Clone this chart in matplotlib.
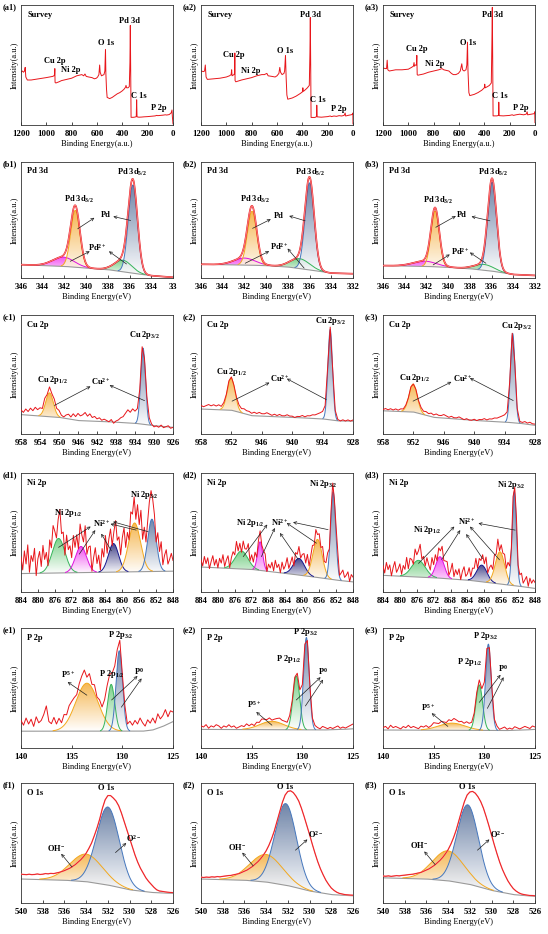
import numpy as np
import matplotlib
matplotlib.use('Agg')
import matplotlib.pyplot as plt
from matplotlib.colors import LinearSegmentedColormap, to_rgb

plt.rcParams['font.family'] = ['Liberation Serif', 'DejaVu Serif']
plt.rcParams['font.weight'] = 'bold'
plt.rcParams['font.size'] = 6
plt.rcParams['mathtext.fontset'] = 'custom'
plt.rcParams['mathtext.rm'] = 'Liberation Serif:bold'
plt.rcParams['mathtext.it'] = 'Liberation Serif:bold'
plt.rcParams['mathtext.bf'] = 'Liberation Serif:bold'
plt.rcParams['mathtext.default'] = 'rm'

RED = '#e8161b'
EDGE = {'blue': '#4577bd', 'orange': '#f3a81c', 'green': '#36b45a',
        'magenta': '#dd10dd', 'navy': '#15158e'}
FILL = {'blue': '#5f779f', 'orange': '#f5b040', 'green': '#6ccb7c',
        'magenta': '#f03cf0', 'navy': '#33337f'}

# ---------------- survey (a) ----------------
a1_be = [1200, 1190, 1180, 1172, 1167, 1162, 1150, 1120, 1090, 1060, 1030, 1000, 975, 950, 940, 935, 933, 931, 925, 900,
         880, 860, 840, 820, 800, 780, 760, 740, 720, 705, 695, 685, 665, 640, 620, 605, 595, 585, 579, 575,
         565, 555, 545, 538, 533, 530, 525, 520, 500, 480, 460, 440, 420, 400, 385, 375, 371, 366, 355, 345,
         340, 337, 334, 331, 315, 300, 290, 287, 284, 270, 250, 230, 200, 180, 160, 140, 130, 120, 100, 80,
         60, 50, 30, 15, 8, 5, 0]
a1_int = [.44, .45, .44, .45, .48, .40, .375, .375, .38, .385, .39, .395, .40, .405, .41, .42, .47, .355, .35, .36,
          .37, .375, .38, .385, .39, .40, .41, .415, .42, .41, .425, .405, .40, .395, .385, .39, .40, .42, .50, .44,
          .41, .415, .42, .45, .63, .43, .30, .23, .22, .23, .245, .26, .27, .285, .30, .315, .33, .31, .31, .32,
          .52, .83, .45, .064, .064, .066, .07, .21, .068, .065, .066, .068, .07, .072, .074, .076, .08, .078, .08, .082,
          .085, .083, .087, .10, .125, .07, .01]
a2_be = [1200, 1180, 1172, 1166, 1160, 1150, 1100, 1050, 1000, 975, 962, 958, 955, 940, 935, 933, 931, 925, 880, 840,
         800, 760, 720, 700, 680, 670, 640, 615, 600, 585, 578, 572, 560, 545, 540, 533, 528, 522, 515, 480,
         450, 420, 400, 396, 392, 375, 360, 345, 340, 337, 334, 331, 300, 288, 286, 283, 250, 200, 180, 170,
         150, 130, 110, 90, 70, 62, 58, 40, 15, 4, 1, 0]
a2_int = [.45, .445, .45, .50, .40, .38, .385, .39, .40, .41, .42, .46, .41, .42, .43, .60, .37, .36, .375, .385,
          .395, .41, .42, .42, .43, .41, .405, .40, .41, .43, .48, .44, .42, .43, .45, .58, .40, .25, .215, .225,
          .24, .26, .275, .31, .28, .295, .31, .33, .60, .895, .50, .063, .063, .07, .165, .068, .065, .07, .075, .07,
          .075, .072, .078, .075, .08, .10, .075, .08, .085, .09, .10, .01]
a3_be = [1200, 1180, 1172, 1167, 1162, 1150, 1100, 1050, 1000, 975, 960, 955, 952, 945, 936, 933, 930, 925, 880, 840,
         800, 760, 735, 720, 700, 680, 660, 645, 625, 605, 590, 578, 572, 560, 545, 538, 533, 529, 522, 515,
         480, 450, 420, 400, 397, 393, 375, 360, 345, 340, 337, 334, 331, 300, 288, 286, 283, 250, 200, 180,
         170, 150, 120, 90, 70, 62, 58, 30, 5, 2, 0]
a3_int = [.475, .47, .47, .54, .46, .45, .46, .46, .465, .48, .49, .52, .49, .50, .50, .58, .42, .415, .425, .44,
          .45, .46, .47, .46, .455, .45, .43, .42, .42, .43, .45, .51, .46, .45, .46, .50, .69, .45, .27, .245,
          .255, .27, .29, .31, .34, .31, .32, .33, .35, .70, .98, .55, .076, .076, .08, .19, .078, .076, .08, .085,
          .08, .085, .09, .085, .09, .11, .085, .09, .095, .11, .02]
a1_text = [('Pd 3d', 342, .87), ('O 1s', 525, .68), ('Cu 2p', 932, .53), ('Ni 2p', 809, .46), ('C 1s', 268, .24), ('P 2p', 111, .14)]
a2_text = [('Pd 3d', 337, .92), ('O 1s', 534, .62), ('Cu 2p', 942, .58), ('Ni 2p', 810, .45), ('C 1s', 276, .21), ('P 2p', 113, .13)]
a3_text = [('Pd 3d', 337, .92), ('O 1s', 532, .68), ('Cu 2p', 937, .63), ('Ni 2p', 790, .51), ('C 1s', 276, .24), ('P 2p', 110, .14)]

# ---------------- Pd 3d (b) : peaks = (colour, centre, height, sigma) ----------------
b1_bg_x = [346, 342, 340, 338, 336, 334, 332]
b1_bg_y = [.115, .10, .086, .072, .045, .02, .006]
b1_peaks = [('magenta', 342.1, .08, 1.0), ('green', 336.6, .10, .8), ('orange', 341.0, .49, .42), ('blue', 335.7, .76, .42)]
b2_bg_x = [346, 342, 340, 338, 336, 334, 332]
b2_bg_y = [.118, .112, .107, .095, .07, .042, .037]
b2_peaks = [('magenta', 342.0, .06, 1.0), ('green', 336.9, .085, .9), ('orange', 341.3, .465, .42), ('blue', 336.0, .75, .42)]
b3_bg_x = [346, 342, 340, 338, 336, 334, 332]
b3_bg_y = [.107, .10, .092, .08, .06, .03, .022]
b3_peaks = [('magenta', 342.15, .045, 1.1), ('green', 336.7, .05, .9), ('orange', 341.2, .48, .38), ('blue', 335.95, .765, .40)]
b1_text = [('Pd 3d$_{5/2}$', 335.75, .91), ('Pd 3d$_{3/2}$', 340.7, .68), ('Pd', 338.2, .54), ('Pd$^{2+}$', 339.0, .26)]
b2_text = [('Pd 3d$_{5/2}$', 336.0, .91), ('Pd 3d$_{3/2}$', 341.0, .68), ('Pd', 338.8, .535), ('Pd$^{2+}$', 338.8, .268)]
b3_text = [('Pd 3d$_{5/2}$', 335.9, .91), ('Pd 3d$_{3/2}$', 340.9, .67), ('Pd', 338.7, .54), ('Pd$^{2+}$', 338.85, .23)]
b1_arrows = [(340.78, .424, 339.24, .519), (335.9, .496, 337.5, .53), (341.46, .144, 339.67, .23), (336.28, .121, 337.9, .23)]
b2_arrows = [(341.25, .428, 339.57, .507), (336.41, .493, 337.88, .535), (341.93, .127, 339.72, .231), (336.5, .085, 338.03, .254)]
b3_arrows = [(341.14, .437, 339.29, .535), (336.15, .493, 337.85, .53), (341.38, .113, 339.85, .203), (336.52, .127, 338.0, .22)]

# ---------------- Cu 2p (c) ----------------
c1_bg_x = [958, 950, 946, 940, 934, 930, 926]
c1_bg_y = [.163, .14, .113, .104, .09, .07, .056]
c1_peaks = [('orange', 952.0, .20, .8), ('blue', 932.3, .64, .5)]
c1_res = [4, 2, 5, 3, 6, 4, 7, 5, 6, 3, 6, 2, 5, 3, 6, 4, 5, 2, 1, 3, 4, 2, 5, 3, 6, 4, 5, 7, 4, 6, 3, 4, 2, 3, 1, 2,
          1, 0, 2, -1, 1, 2, 4, 5, 8, 11, 9, 12, 10, 9, 5, 6, 2, 6, 4, 1, -1, 0, -1, 1, -1, 0, 1, -1, 0]
c2_bg_x = [958, 952, 948, 940, 934, 931, 928]
c2_bg_y = [.21, .20, .154, .14, .127, .11, .108]
c2_peaks = [('orange', 952.05, .27, .75), ('blue', 932.5, .76, .45)]
c2_res = [3, 2, 3, 4, 3, 4, 3, 4, 2, 2, 1, 2, 1, 1, 2, 3, 3, 4, 3, 3, 2, 3, 2, 3, 2, 2, 3, 2, 1, 2, 1, 2, 1, 1, 2, 1,
          1, 0, 1, 1, 2, 1, 2, 2, 3, 3, 4, 5, 6, 5, 3, 2, 1, 2, 1, 0, 1, 0, 1, 0, 1]
c3_bg_x = [958, 952, 948, 940, 934, 931, 928]
c3_bg_y = [.195, .185, .14, .114, .10, .09, .073]
c3_peaks = [('orange', 952.05, .235, .8), ('blue', 932.4, .75, .45)]
c3_res = [1, 2, 1, 2, 1, 2, 1, 2, 1, 1, 0, 1, 0, 1, 1, 2, 2, 3, 2, 3, 2, 3, 2, 2, 3, 2, 1, 2, 1, 1, 2, 1, 0, 1, 0, 0,
          1, 0, 1, 1, 2, 1, 2, 2, 3, 3, 4, 5, 6, 5, 3, 2, 1, 2, 1, 1, 2, 1, 2, 1, 1]
c1_text = [('Cu 2p$_{3/2}$', 932.0, .83), ('Cu 2p$_{1/2}$', 951.3, .45), ('Cu$^{2+}$', 941.1, .445)]
c2_text = [('Cu 2p$_{3/2}$', 932.4, .95), ('Cu 2p$_{1/2}$', 952.07, .52), ('Cu$^{2+}$', 942.5, .465)]
c3_text = [('Cu 2p$_{3/2}$', 931.6, .91), ('Cu 2p$_{1/2}$', 951.74, .47), ('Cu$^{2+}$', 942.18, .465)]
c1_arrows = [(950.97, .24, 943.37, .40), (931.98, .28, 939.36, .41)]
c2_arrows = [(951.87, .276, 944.49, .432), (933.28, .289, 941.06, .465)]
c3_arrows = [(952.07, .276, 944.49, .438), (932.29, .281, 940.86, .47)]

# ---------------- Ni 2p (d) ----------------
d1_bg_x = [884, 848]
d1_bg_y = [.155, .175]
d1_peaks = [('green', 875.1, .29, 1.5), ('magenta', 869.8, .22, 1.3), ('navy', 862.1, .24, 1.2),
            ('orange', 857.1, .41, 1.4), ('blue', 853.0, .44, 1.0)]
d1_res = [14, 3, 19, 8, 24, 1, 15, 10, 21, -2, 12, 18, 5, 22, 9, 13, -1, 17, 6, 20, 11, 2, 16, 25, 7, 12, -3, 18, 9, 14,
          4, 21, 8, 15, 0, 19, 10, 6, 23, 3, 13, 17, -2, 11, 20, 7, 14, 1, 18, 9, 24, 5, 12, 16, -1, 10, 21, 8, 15, 3,
          19, 26, 6, 13, 0, 17, 10, 22, 4, 20, 9, 27, 7, 18, 2, 12, 20, 24, 17, 11, -2, 16, 8, 21, 4, 13, 18, 6, 10, 15, 9]
d2_bg_x = [884, 872, 866, 858, 852, 848]
d2_bg_y = [.21, .19, .165, .13, .10, .085]
d2_peaks = [('green', 874.4, .15, 1.5), ('magenta', 870.0, .24, .6), ('navy', 860.8, .14, 1.3),
            ('orange', 856.4, .32, 1.1), ('blue', 852.7, .74, .6)]
d2_res = [6, 1, 9, 3, 8, -1, 5, 10, 2, 7, 0, 8, 4, 11, 1, 6, 9, -2, 5, 8, 3, 12, 2, 7, -1, 9, 4, 6, 13, 1,
          8, 3, 10, 0, 5, 9, 2, 7, 11, -1, 6, 3, 8, 1, 10, 4, 7, 0, 9, 3, 6, 12, 2, 5, 8, -2, 7, 4, 10, 1,
          6, 9, 3, 11, 0, 5, 8, 2, 10, 4, 7, 1, 9, 3, 6, 12, 0, 5, 8, 2, 7, 10, 1, 6, 9, 3, 5, 8, 0, 6, 4]
d3_bg_x = [884, 872, 864, 858, 852, 848]
d3_bg_y = [.14, .12, .10, .075, .05, .03]
d3_peaks = [('green', 875.6, .14, 1.6), ('magenta', 870.5, .18, 1.0), ('navy', 860.6, .14, 1.2),
            ('orange', 856.3, .27, 1.1), ('blue', 852.9, .79, .5)]
d3_res = [8, 2, 11, 5, 9, 0, 7, 12, 3, 6, 10, 1, 8, 4, 13, 2, 9, 6, 0, 11, 5, 8, 14, 3, 7, 1, 10, 6, 2, 12,
          4, 9, 0, 8, 5, 11, 3, 7, 10, 1, 6, 13, 2, 8, 4, 9, 0, 7, 11, 3, 5, 10, 2, 8, 6, 12, 1, 7, 4, 9,
          3, 11, 0, 6, 8, 2, 10, 5, 13, 1, 7, 4, 9, 3, 12, 6, 0, 8, 5, 10, 2, 7, 11, 3, 6, 9, 1, 8, 4, 7, 5]
d1_text = [('Ni 2p$_{3/2}$', 854.7, .817), ('Ni 2p$_{1/2}$', 872.9, .662), ('Ni$^{2+}$', 865.0, .577)]
d2_text = [('Ni 2p$_{3/2}$', 855.1, .906), ('Ni 2p$_{1/2}$', 872.4, .58), ('Ni$^{2+}$', 865.3, .58)]
d3_text = [('Ni 2p$_{3/2}$', 853.5, .90), ('Ni 2p$_{1/2}$', 873.6, .52), ('Ni$^{2+}$', 864.1, .59)]
d1_arrows = [(875.1, .375, 867.5, .55), (870.2, .318, 866.4, .52), (862.6, .346, 865.0, .49),
             (856.7, .52, 862.8, .572), (853.9, .507, 862.2, .59)]
d2_arrows = [(874.0, .297, 868.3, .567), (869.7, .297, 866.5, .538), (861.0, .275, 865.3, .496),
             (856.65, .41, 863.7, .58), (853.9, .524, 862.2, .586)]
d3_arrows = [(875.6, .24, 867.1, .55), (870.1, .273, 865.7, .52), (860.4, .28, 864.3, .487),
             (856.4, .27, 863.4, .55), (852.7, .52, 861.4, .577)]

# ---------------- P 2p (e) ----------------
e1_bg_x = [140, 128, 127, 126, 125]
e1_bg_y = [.14, .14, .15, .18, .22]
e1_peaks = [('orange', 133.5, .40, 1.1), ('green', 131.1, .39, .35), ('blue', 130.3, .67, .32)]
e1_res = [9, 5, 11, 6, 10, 4, 12, 7, 9, 14, 21, 8, 6, 11, 5, 9, 4, 9, 6, 10, 9, 7, 4, 8, 10, 12, 5, 9, 3, 7,
          2, 5, 3, 8, 10, 6, 2, 4, 3, 7, 4, 6, 3, 8, 5, 9, 6, 11, 7, 4, 9, 6, 10, 5, 12, 7, 9, 13, 6, 10, 8]
e2_bg_x = [140, 128, 126, 125]
e2_bg_y = [.155, .15, .155, .16]
e2_peaks = [('orange', 133.0, .07, 1.2), ('green', 130.6, .45, .33), ('blue', 129.6, .77, .28)]
e2_res = [3, 2, 4, 1, 3, 2, 4, 3, 1, 3, 2, 4, 2, 3, 1, 2, 3, 2, 4, 2, 3, 1, 3, 2, 4, 3, 2, 3, 1, 2,
          3, 4, 3, 3, 2, 3, 1, 2, 3, 2, 1, 3, 2, 1, 2, 3, 2, 1, 3, 2, 1, 2, 1, 2, 3, 1, 2, 1, 2, 3, 4]
e3_bg_x = [140, 128, 126, 125]
e3_bg_y = [.15, .145, .15, .155]
e3_peaks = [('orange', 133.2, .06, 1.3), ('green', 130.5, .38, .33), ('blue', 129.6, .72, .28)]
e3_res = [2, 3, 1, 4, 2, 3, 2, 1, 3, 2, 4, 2, 3, 2, 1, 3, 2, 3, 1, 2, 4, 3, 2, 3, 2, 1, 3, 2, 4, 3,
          2, 3, 2, 4, 3, 2, 1, 2, 3, 1, 2, 3, 1, 2, 2, 3, 1, 2, 3, 1, 2, 1, 3, 2, 1, 2, 3, 2, 1, 3, 2]
e1_text = [('P 2p$_{3/2}$', 130.2, .94), ('P 2p$_{1/2}$', 131.1, .62), ('P$^{5+}$', 135.4, .61), ('P$^{0}$', 128.4, .64)]
e2_text = [('P 2p$_{3/2}$', 129.7, .97), ('P 2p$_{1/2}$', 131.3, .74), ('P$^{5+}$', 134.8, .36), ('P$^{0}$', 128.0, .64)]
e3_text = [('P 2p$_{3/2}$', 129.9, .93), ('P 2p$_{1/2}$', 131.4, .72), ('P$^{5+}$', 135.6, .34), ('P$^{0}$', 128.2, .66)]
e1_arrows = [(133.5, .44, 135.4, .55), (131.06, .40, 128.5, .60), (130.1, .34, 128.1, .58)]
e2_arrows = [(133.0, .19, 134.55, .30), (130.6, .40, 128.2, .59), (129.7, .35, 127.95, .57)]
e3_arrows = [(133.6, .18, 135.2, .29), (130.5, .38, 128.4, .61), (129.7, .33, 128.1, .59)]

# ---------------- O 1s (f) : raw curve every 0.25 eV from 540 ----------------
f1_bg_x = [540, 536, 534, 532, 530, 528, 526]
f1_bg_y = [.20, .19, .178, .15, .11, .088, .08]
f1_peaks = [('orange', 534.0, .23, 1.5), ('blue', 532.0, .65, 1.05)]
f1_raw = [.24, .238, .236, .24, .236, .238, .242, .238, .24, .245, .243, .247, .245, .25, .255, .262, .27,
          .28, .29, .305, .32, .34, .36, .385, .415, .455, .50, .56, .625, .70, .79, .86, .895,
          .895, .875, .85, .81, .75, .68, .61, .54, .47, .40, .34, .29, .25, .21, .18, .155,
          .13, .11, .10, .097, .093, .09, .088, .086]
f2_bg_x = [540, 536, 534, 532, 530, 528, 526]
f2_bg_y = [.20, .19, .175, .145, .10, .07, .06]
f2_peaks = [('orange', 534.0, .23, 1.5), ('blue', 532.2, .68, 1.0)]
f2_raw = [.215, .213, .216, .214, .218, .216, .22, .218, .222, .225, .228, .23, .235, .24, .245, .255, .265,
          .275, .29, .305, .325, .345, .37, .40, .435, .48, .535, .60, .68, .76, .84, .90, .93,
          .935, .92, .89, .85, .79, .72, .645, .57, .49, .415, .345, .285, .235, .19, .155, .125,
          .105, .09, .08, .075, .07, .068, .066, .065]
f3_bg_x = [540, 536, 534, 532, 530, 528, 526]
f3_bg_y = [.21, .20, .185, .155, .105, .07, .055]
f3_peaks = [('orange', 534.0, .25, 1.45), ('blue', 532.2, .66, 1.0)]
f3_raw = [.225, .223, .226, .222, .225, .228, .226, .23, .232, .235, .238, .24, .245, .25, .255, .265, .275,
          .285, .30, .315, .335, .355, .38, .41, .445, .49, .545, .61, .69, .77, .845, .90, .925,
          .93, .915, .885, .845, .79, .72, .645, .565, .485, .41, .34, .28, .23, .185, .15, .12,
          .10, .085, .075, .07, .066, .063, .062, .06]
f1_text = [('O 1s', 532.2, .96), ('OH$^{-}$', 536.8, .46), ('O$^{2-}$', 529.6, .54)]
f2_text = [('O 1s', 532.3, .97), ('OH$^{-}$', 536.7, .47), ('O$^{2-}$', 529.4, .57)]
f3_text = [('O 1s', 532.3, .97), ('OH$^{-}$', 536.7, .48), ('O$^{2-}$', 529.4, .57)]
f1_arrows = [(535.3, .30, 536.3, .41), (531.3, .42, 530.3, .50)]
f2_arrows = [(535.2, .31, 536.2, .42), (531.3, .44, 530.2, .53)]
f3_arrows = [(535.2, .32, 536.2, .43), (531.3, .44, 530.2, .53)]


def gauss(x, c, h, s):
    return h * np.exp(-0.5 * ((x - c) / s) ** 2)


def grad_fill(ax, x, lo, hi, color, z):
    coll = ax.fill_between(x, lo, hi, facecolor='none', edgecolor='none')
    path = coll.get_paths()[0]
    cmap = LinearSegmentedColormap.from_list('g', [(1, 1, 1), to_rgb(color)])
    im = ax.imshow(np.linspace(0, 1, 128).reshape(-1, 1), cmap=cmap, aspect='auto', origin='lower',
                   extent=(x.min(), x.max(), lo.min(), hi.max()), zorder=z, interpolation='bilinear', alpha=0.9)
    im.set_clip_path(path, transform=ax.transData)


def bg_at(x, bx, by):
    return np.interp(x, bx[::-1], by[::-1])


def draw_fit(ax, x0, x1, bx, by, peaks, env=False):
    x = np.linspace(x0, x1, 800)
    bg = bg_at(x, bx, by)
    total = bg.copy()
    for k, (key, c, h, s) in enumerate(peaks):
        g = gauss(x, c, h, s)
        grad_fill(ax, x, bg, bg + g, FILL[key], 1 + 0.01 * k)
        edge = np.where(g > 0.004, bg + g, np.nan)
        ax.plot(x, edge, color=EDGE[key], lw=0.7, zorder=3)
        total = total + g
    ax.plot(x, bg, color='#9a9a9a', lw=0.8, zorder=2.5)
    if env:
        ax.plot(x, total, color=RED, lw=1.2, zorder=4)
        ax.plot(x, total, color='#ff9c9c', lw=0.5, zorder=4.1)


def draw_raw(ax, x0, step, bx, by, peaks, res):
    xr = x0 - step * np.arange(len(res))
    yr = bg_at(xr, bx, by) + 0.01 * np.array(res)
    for key, c, h, s in peaks:
        yr = yr + gauss(xr, c, h, s)
    ax.plot(xr, yr, color=RED, lw=0.7, zorder=4)


def notes(ax, texts, arrows):
    for t, x, y in texts:
        ax.text(x, y, t, ha='center', va='center', fontsize=6, zorder=6)
    for xt, yt, xh, yh in arrows:
        ax.annotate('', xy=(xh, yh), xytext=(xt, yt), zorder=6,
                    arrowprops=dict(arrowstyle='->', color='#202020', lw=0.5, mutation_scale=5,
                                    shrinkA=0, shrinkB=0))


def style(ax, x0, x1, ticks, title, xlabel='Binding Energy(eV)', labels=None):
    ax.set_xlim(x0, x1)
    ax.set_ylim(0, 1)
    ax.set_xticks(ticks)
    if labels is not None:
        ax.set_xticklabels(labels)
    ax.set_yticks([])
    ax.tick_params(axis='x', direction='in', length=2, width=0.5, pad=3.5, labelsize=6.3)
    for sp in ax.spines.values():
        sp.set_linewidth(0.6)
        sp.set_color('#333333')
    ax.set_ylabel('Intensity(a.u.)', fontsize=6, labelpad=2)
    ax.set_xlabel(xlabel, fontsize=6, labelpad=1.5)
    ax.text(0.04, 0.92, title, transform=ax.transAxes, ha='left', va='center', fontsize=6, zorder=6)


W, H = 548, 934
fig = plt.figure(figsize=(W / 100, H / 100), dpi=100)
col_left = [21, 201, 383]
row_top = [5, 162, 315, 473, 628, 783]
row_h = [120, 116, 119, 119, 120, 120]
axes = {}
for r, letter in enumerate('abcdef'):
    for c in range(3):
        L, T, h = col_left[c], row_top[r], row_h[r]
        ax = fig.add_axes([L / W, 1 - (T + h) / H, 152 / W, h / H])
        axes[letter + str(c + 1)] = ax
        fig.text((L - 18) / W, 1 - (T + 2) / H, '(%s%d)' % (letter, c + 1), ha='left', va='center', fontsize=6)

# row a
for key, be, it, tx in [('a1', a1_be, a1_int, a1_text), ('a2', a2_be, a2_int, a2_text), ('a3', a3_be, a3_int, a3_text)]:
    ax = axes[key]
    ax.plot(be, it, color=RED, lw=0.7)
    notes(ax, tx, [])
    style(ax, 1200, 0, [1200, 1000, 800, 600, 400, 200, 0], 'Survey', xlabel='Binding Energy(a.u.)')

# row b
b_ticks = [346, 344, 342, 340, 338, 336, 334, 332]
for key, bx, by, pk, tx, ar in [('b1', b1_bg_x, b1_bg_y, b1_peaks, b1_text, b1_arrows),
                                ('b2', b2_bg_x, b2_bg_y, b2_peaks, b2_text, b2_arrows),
                                ('b3', b3_bg_x, b3_bg_y, b3_peaks, b3_text, b3_arrows)]:
    ax = axes[key]
    draw_fit(ax, 346, 332, bx, by, pk, env=True)
    notes(ax, tx, ar)
    labels = [str(t) for t in b_ticks]
    if key == 'b1':
        labels[-1] = '33'
    style(ax, 346, 332, b_ticks, 'Pd 3d', labels=labels)

# row c
for key, x1, ticks, bx, by, pk, res, tx, ar in [
        ('c1', 926, list(range(958, 925, -4)), c1_bg_x, c1_bg_y, c1_peaks, c1_res, c1_text, c1_arrows),
        ('c2', 928, list(range(958, 927, -6)), c2_bg_x, c2_bg_y, c2_peaks, c2_res, c2_text, c2_arrows),
        ('c3', 928, list(range(958, 927, -6)), c3_bg_x, c3_bg_y, c3_peaks, c3_res, c3_text, c3_arrows)]:
    ax = axes[key]
    draw_fit(ax, 958, x1, bx, by, pk)
    draw_raw(ax, 958, 0.5, bx, by, pk, res)
    notes(ax, tx, ar)
    style(ax, 958, x1, ticks, 'Cu 2p')

# row d
for key, bx, by, pk, res, tx, ar in [('d1', d1_bg_x, d1_bg_y, d1_peaks, d1_res, d1_text, d1_arrows),
                                     ('d2', d2_bg_x, d2_bg_y, d2_peaks, d2_res, d2_text, d2_arrows),
                                     ('d3', d3_bg_x, d3_bg_y, d3_peaks, d3_res, d3_text, d3_arrows)]:
    ax = axes[key]
    draw_fit(ax, 884, 848, bx, by, pk)
    draw_raw(ax, 884, 0.4, bx, by, pk, res)
    notes(ax, tx, ar)
    style(ax, 884, 848, list(range(884, 847, -4)), 'Ni 2p')

# row e
for key, bx, by, pk, res, tx, ar in [('e1', e1_bg_x, e1_bg_y, e1_peaks, e1_res, e1_text, e1_arrows),
                                     ('e2', e2_bg_x, e2_bg_y, e2_peaks, e2_res, e2_text, e2_arrows),
                                     ('e3', e3_bg_x, e3_bg_y, e3_peaks, e3_res, e3_text, e3_arrows)]:
    ax = axes[key]
    draw_fit(ax, 140, 125, bx, by, pk)
    draw_raw(ax, 140, 0.25, bx, by, pk, res)
    notes(ax, tx, ar)
    style(ax, 140, 125, [140, 135, 130, 125], 'P 2p')

# row f
for key, bx, by, pk, raw, tx, ar in [('f1', f1_bg_x, f1_bg_y, f1_peaks, f1_raw, f1_text, f1_arrows),
                                     ('f2', f2_bg_x, f2_bg_y, f2_peaks, f2_raw, f2_text, f2_arrows),
                                     ('f3', f3_bg_x, f3_bg_y, f3_peaks, f3_raw, f3_text, f3_arrows)]:
    ax = axes[key]
    draw_fit(ax, 540, 526, bx, by, pk)
    xr = 540 - 0.25 * np.arange(len(raw))
    ax.plot(xr, raw, color='#ff9090', lw=1.0, zorder=4)
    ax.plot(xr, raw, color=RED, lw=0.6, zorder=4.1)
    notes(ax, tx, ar)
    style(ax, 540, 526, list(range(540, 525, -2)), 'O 1s')

fig.savefig('out.png', dpi=100)
